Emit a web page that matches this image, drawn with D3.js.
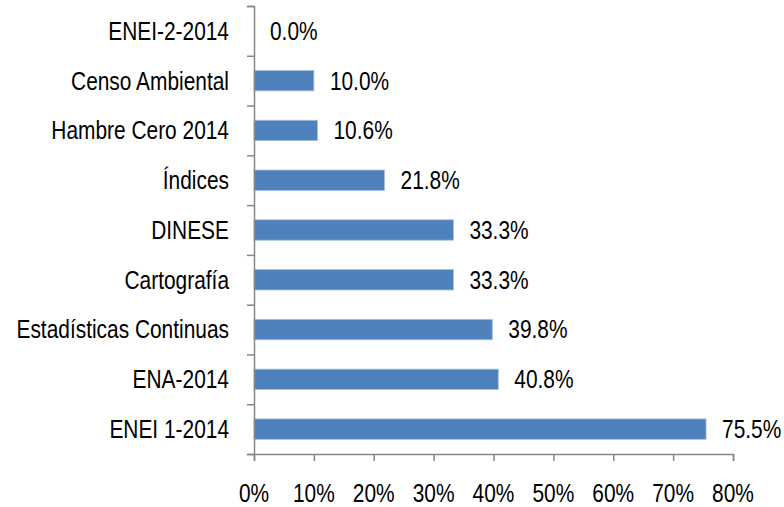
<!DOCTYPE html>
<html>
<head>
<meta charset="utf-8">
<script src="https://cdn.jsdelivr.net/npm/d3@7"></script>
<style>
    body { margin: 0; background: #fff; }
    text { font-family: "Liberation Sans", Arial, sans-serif; fill: #000; }
</style>
</head>
<body>
<div id="barchart"></div>
<script>

// data, top to bottom
const categories = ["ENEI-2-2014", "Censo Ambiental", "Hambre Cero 2014", "Índices", "DINESE",
    "Cartografía", "Estadísticas Continuas", "ENA-2014", "ENEI 1-2014"];
const values = [0.0, 10.0, 10.6, 21.8, 33.3, 33.3, 39.8, 40.8, 75.5];
const xTicks = [0, 10, 20, 30, 40, 50, 60, 70, 80];

let margin = {top: 6, left: 254},
    width = 733 - 254,
    height = 454 - 6;

// no narrow font installed, so squeeze Liberation Sans like Arial Narrow
let fontSize = "25.5px",
    narrow = 0.82;

let svg = d3.select("#barchart")
    .append("svg")
    .attr("width", 784)
    .attr("height", 507)
    .append("g")
    .attr("transform", `translate(${margin.left},${margin.top})`);

let x = d3.scaleLinear()
    .domain([0, 80])
    .range([0, width]);

let y = d3.scaleBand()
    .domain(categories)
    .range([0, height])
    .paddingInner(0.59)
    .paddingOuter(0.295);

// boundaries between categories for the left axis ticks
let yEdges = d3.scaleLinear()
    .domain([0, categories.length])
    .range([0, height]);

let axisColor = "#868686";

//bars
svg.selectAll("rect.bar")
    .data(values)
    .join("rect")
    .attr("class", "bar")
    .attr("x", 0)
    .attr("y", (d, i) => y(categories[i]))
    .attr("width", d => x(d))
    .attr("height", y.bandwidth())
    .attr("fill", "#4f81bd")
    .attr("stroke", "#a7c0de")
    .attr("stroke-width", 0.8);

//value labels
svg.selectAll("text.value")
    .data(values)
    .join("text")
    .attr("class", "value")
    .attr("transform", (d, i) => `translate(${x(d) + 16},${y(categories[i]) + y.bandwidth() / 2}) scale(${narrow},1)`)
    .attr("dy", "0.35em")
    .style("font-size", fontSize)
    .text(d => d.toFixed(1) + "%");

//category labels
svg.selectAll("text.cat")
    .data(categories)
    .join("text")
    .attr("class", "cat")
    .attr("transform", d => `translate(-25,${y(d) + y.bandwidth() / 2}) scale(${narrow},1)`)
    .attr("dy", "0.35em")
    .attr("text-anchor", "end")
    .style("font-size", fontSize)
    .text(d => d);

//left axis
let leftAxis = svg.append("g")
    .call(d3.axisLeft(yEdges).tickValues(d3.range(categories.length + 1)).tickSize(7).tickFormat(""));

//bottom axis
let bottomAxis = svg.append("g")
    .attr("transform", `translate(0, ${height})`)
    .call(d3.axisBottom(x).tickValues(xTicks).tickSize(7).tickFormat(""));

//x tick labels
svg.selectAll("text.xtick")
    .data(xTicks)
    .join("text")
    .attr("class", "xtick")
    .attr("transform", d => `translate(${x(d)},${height + 48}) scale(${narrow},1)`)
    .attr("text-anchor", "middle")
    .style("font-size", fontSize)
    .text(d => d + "%");

[leftAxis, bottomAxis].forEach(a => {
    a.select(".domain").attr("stroke", axisColor).attr("stroke-width", 1.5);
    a.selectAll(".tick line").attr("stroke", axisColor).attr("stroke-width", 1.5);
});

</script>
</body>
</html>
